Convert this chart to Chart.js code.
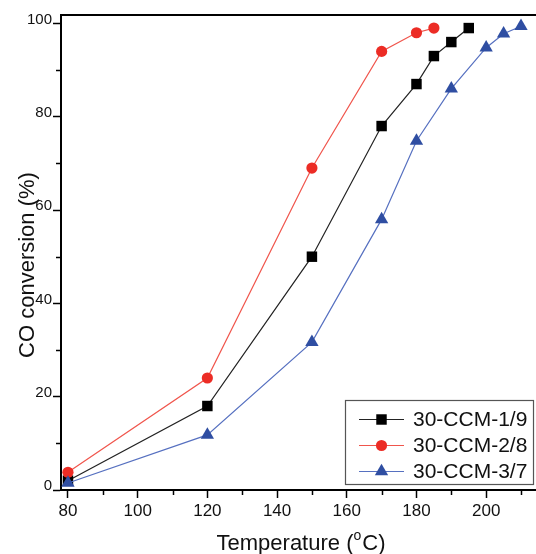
<!DOCTYPE html>
<html>
<head>
<meta charset="utf-8">
<script src="https://cdn.jsdelivr.net/npm/chart.js@4.4.0/dist/chart.umd.min.js"></script>
<style>
html, body { margin: 0; padding: 0; background: #fff; }
</style>
</head>
<body>
<canvas id="chart" width="536" height="554"></canvas>
<script>
// values
const temps19 = [80, 120, 150, 170, 180, 185, 190, 195];
const conv19 = [2, 18, 50, 78, 87, 93, 96, 99];
const temps28 = [80, 120, 150, 170, 180, 185];
const conv28 = [3.8, 24, 69, 94, 98, 99];
const temps37 = [80, 120, 150, 170, 180, 190, 200, 205, 210];
const conv37 = [1.5, 11.8, 31.7, 58, 74.8, 86, 94.8, 97.8, 99.4];
const seriesNames = ['30-CCM-1/9', '30-CCM-2/8', '30-CCM-3/7'];

const xMajorTicks = [80, 100, 120, 140, 160, 180, 200];
const xMinorTicks = [90, 110, 130, 150, 170, 190, 210];
const yMajorTicks = [0, 20, 40, 60, 80, 100];
const yMinorTicks = [10, 30, 50, 70, 90];

const FONT = "'Liberation Sans', Arial, sans-serif";

function toPoints(xs, ys) {
    return xs.map((x, i) => ({ x: x, y: ys[i] }));
}

function drawMarker(ctx, style, x, y, r) {
    ctx.beginPath();
    if (style === 'rect') {
        const s = Math.SQRT1_2 * r;
        ctx.rect(x - s, y - s, 2 * s, 2 * s);
    } else if (style === 'triangle') {
        ctx.moveTo(x, y - r);
        ctx.lineTo(x + 0.866 * r, y + 0.5 * r);
        ctx.lineTo(x - 0.866 * r, y + 0.5 * r);
        ctx.closePath();
    } else {
        ctx.arc(x, y, r, 0, Math.PI * 2);
    }
    ctx.fill();
}

const decorPlugin = {
    id: 'decor',
    afterDraw(chart) {
        const ctx = chart.ctx;
        const area = chart.chartArea;
        const xs = chart.scales.x;
        const ys = chart.scales.y;
        ctx.save();

        // top frame line
        ctx.strokeStyle = '#000';
        ctx.lineWidth = 2;
        ctx.beginPath();
        ctx.moveTo(area.left - 1, area.top);
        ctx.lineTo(area.right, area.top);
        ctx.stroke();

        // minor ticks
        ctx.lineWidth = 1.5;
        xMinorTicks.forEach((v) => {
            const px = Math.round(xs.getPixelForValue(v)) + 0.5;
            ctx.beginPath();
            ctx.moveTo(px, area.bottom);
            ctx.lineTo(px, area.bottom + 5);
            ctx.stroke();
        });
        yMinorTicks.forEach((v) => {
            const py = Math.round(ys.getPixelForValue(v)) + 0.5;
            ctx.beginPath();
            ctx.moveTo(area.left, py);
            ctx.lineTo(area.left - 5, py);
            ctx.stroke();
        });

        // axis titles
        ctx.fillStyle = '#111';
        ctx.textBaseline = 'alphabetic';
        ctx.font = '22px ' + FONT;
        ctx.save();
        ctx.translate(34, 265);
        ctx.rotate(-Math.PI / 2);
        ctx.textAlign = 'center';
        ctx.fillText('CO conversion (%)', 0, 0);
        ctx.restore();

        const part1 = 'Temperature (';
        const sup = 'o';
        const part2 = 'C)';
        ctx.textAlign = 'left';
        ctx.font = '22px ' + FONT;
        const w1 = ctx.measureText(part1).width;
        const w3 = ctx.measureText(part2).width;
        ctx.font = '14px ' + FONT;
        const w2 = ctx.measureText(sup).width + 1;
        const total = w1 + w2 + w3;
        let tx = 301 - total / 2;
        ctx.font = '22px ' + FONT;
        ctx.fillText(part1, tx, 550);
        ctx.font = '14px ' + FONT;
        ctx.fillText(sup, tx + w1, 540);
        ctx.font = '22px ' + FONT;
        ctx.fillText(part2, tx + w1 + w2, 550);

        // legend
        ctx.fillStyle = '#fff';
        ctx.fillRect(346, 401, 187, 83);
        ctx.strokeStyle = '#555';
        ctx.lineWidth = 1.2;
        ctx.strokeRect(345.5, 400.5, 188, 84);
        const rows = [419, 445, 471];
        chart.data.datasets.forEach((ds, i) => {
            const y = rows[i];
            ctx.strokeStyle = ds.borderColor;
            ctx.lineWidth = ds.borderWidth;
            ctx.beginPath();
            ctx.moveTo(359, y + 0.5);
            ctx.lineTo(404, y + 0.5);
            ctx.stroke();
            ctx.fillStyle = ds.pointBackgroundColor;
            drawMarker(ctx, ds.pointStyle, 381.5, y + 0.5, ds.pointRadius);
            ctx.fillStyle = '#111';
            ctx.font = '21px ' + FONT;
            ctx.textAlign = 'left';
            ctx.textBaseline = 'middle';
            ctx.fillText(ds.label, 413, y + 1);
        });

        ctx.restore();
    },
};

const ctx = document.getElementById('chart').getContext('2d');
const chart = new Chart(ctx, {
    type: 'scatter',
    data: {
        datasets: [
            {
                label: seriesNames[0],
                data: toPoints(temps19, conv19),
                showLine: true,
                borderColor: '#222222',
                borderWidth: 1.2,
                pointBackgroundColor: '#000000',
                pointStyle: 'rect',
                pointRadius: 7.4,
                pointBorderWidth: 0,
                order: 2,
            },
            {
                label: seriesNames[1],
                data: toPoints(temps28, conv28),
                showLine: true,
                borderColor: '#f0554c',
                borderWidth: 1.2,
                pointBackgroundColor: '#ec2c25',
                pointStyle: 'circle',
                pointRadius: 5.6,
                pointBorderWidth: 0,
                order: 1,
            },
            {
                label: seriesNames[2],
                data: toPoints(temps37, conv37),
                showLine: true,
                borderColor: '#5670c0',
                borderWidth: 1.2,
                pointBackgroundColor: '#2f4ea2',
                pointStyle: 'triangle',
                pointRadius: 7.7,
                pointBorderWidth: 0,
                order: 0,
            },
        ],
    },
    options: {
        responsive: false,
        animation: false,
        devicePixelRatio: 1,
        layout: { autoPadding: false, padding: { top: 15, right: 0, bottom: 0, left: 0 } },
        plugins: {
            legend: { display: false },
            tooltip: { enabled: false },
        },
        scales: {
            x: {
                type: 'linear',
                min: 78,
                max: 214.3,
                afterBuildTicks: (scale) => {
                    scale.ticks = xMajorTicks.map((v) => ({ value: v }));
                },
                afterFit: (scale) => {
                    scale.height = 64;
                    scale.paddingLeft = 0;
                    scale.paddingRight = 0;
                },
                ticks: {
                    font: { family: FONT, size: 17 },
                    color: '#111',
                    padding: 3,
                    maxRotation: 0,
                    autoSkip: false,
                },
                grid: {
                    drawOnChartArea: false,
                    tickLength: 8,
                    tickWidth: 1.5,
                    tickColor: '#000',
                },
                border: { color: '#000', width: 2 },
            },
            y: {
                min: 0,
                max: 101.8,
                afterBuildTicks: (scale) => {
                    scale.ticks = yMajorTicks.map((v) => ({ value: v }));
                },
                afterFit: (scale) => {
                    scale.width = 61;
                    scale.paddingTop = 0;
                    scale.paddingBottom = 0;
                },
                ticks: {
                    font: { family: FONT, size: 15 },
                    color: '#111',
                    padding: 1,
                    labelOffset: -4,
                    autoSkip: false,
                },
                grid: {
                    drawOnChartArea: false,
                    tickLength: 8,
                    tickWidth: 1.5,
                    tickColor: '#000',
                },
                border: { color: '#000', width: 2 },
            },
        },
    },
    plugins: [decorPlugin],
});
</script>
</body>
</html>
